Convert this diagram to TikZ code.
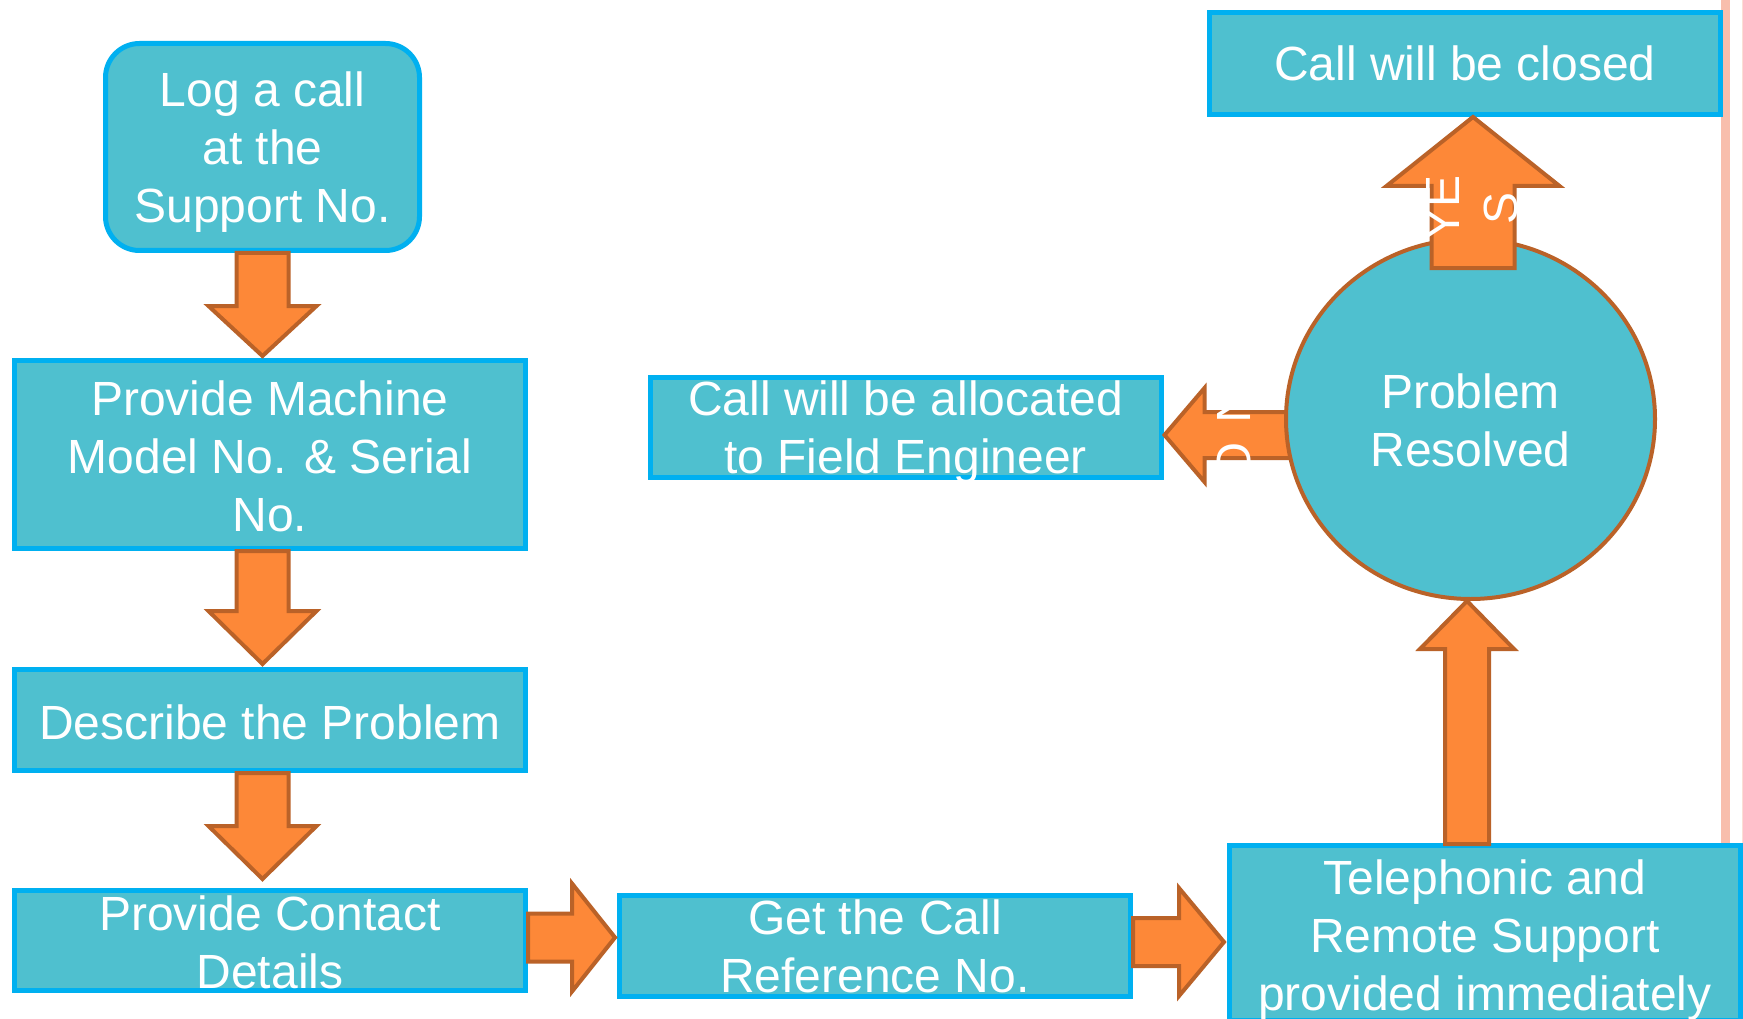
\documentclass[tikz,border=0pt]{standalone}
\usepackage{fontspec}
\setmainfont{Liberation Sans}
\usetikzlibrary{calc,shapes.geometric}

\definecolor{boxfill}{RGB}{79,192,207}
\definecolor{boxline}{RGB}{0,176,240}
\definecolor{arrowfill}{RGB}{253,136,56}
\definecolor{arrowline}{RGB}{186,98,40}
\definecolor{marginline}{RGB}{248,190,172}

% extra room above the first line, pushes a block of text down by half of #1
\newcommand\topgap[1]{\rule{0pt}{\dimexpr 34.5pt+#1\relax}}
% a last line whose descenders take no room
\newcommand\flatbase[1]{\raisebox{0pt}[\height][0pt]{#1}}

\tikzset{
  txt/.style={text=white, font=\fontsize{48}{58}\selectfont, align=center, inner sep=0pt},
  box/.style={txt, draw=boxline, line width=5pt, fill=boxfill, minimum width=511pt},
  startbox/.style={box, rounded corners=34pt},
  decision/.style={txt, ellipse, draw=arrowline, line width=4pt, fill=boxfill},
  flow/.style={draw=arrowline, fill=arrowfill, line width=4pt, line join=miter},
  % block arrow: #1 half shaft width, #2 half head width, #3 head length
  block/.style n args={3}{to path={
    ($(\tikztostart)!#1pt!90:(\tikztotarget)$)
    -- ($(\tikztotarget)!#3pt!(\tikztostart)!#1pt!-90:(\tikztostart)$)
    -- ($(\tikztotarget)!#3pt!(\tikztostart)!#2pt!-90:(\tikztostart)$)
    -- (\tikztotarget)
    -- ($(\tikztotarget)!#3pt!(\tikztostart)!#2pt!90:(\tikztostart)$)
    -- ($(\tikztotarget)!#3pt!(\tikztostart)!#1pt!90:(\tikztostart)$)
    -- ($(\tikztostart)!#1pt!-90:(\tikztotarget)$) -- cycle}},
}

\begin{document}
\begin{tikzpicture}[x=1pt, y=-1pt]
  \useasboundingbox (0,0) rectangle (1743,1019);
  \clip (0,0) rectangle (1743,1019);
  \fill[white] (0,0) rectangle (1743,1019);

  % page margin rule
  \fill[marginline] (1721,0) rectangle (1730,1019);
  \draw[marginline!50, line width=1pt] (1742,0) -- (1742,1019);

  % left column
  \node[startbox, minimum width=314pt, minimum height=207pt] (log) at (262.5,147) {\topgap{11pt}Log a call\\at the\\Support No.};
  \node[box, minimum height=188pt] (machine) at (270,454.5) {\topgap{3pt}Provide Machine\\Model No. \& Serial\\No.};
  \node[box, minimum height=101pt] (describe) at (270,720) {\topgap{4pt}Describe the Problem};
  \node[box, minimum height=100pt] (contact) at (270,940.5) {\topgap{4pt}Provide Contact\\Details};

  % bottom row
  \node[box, minimum height=101pt] (reference) at (875,946) {Get the Call\\Reference No.};
  \node[box, minimum height=175pt] (remote) at (1485,933) {\topgap{14pt}Telephonic and\\Remote Support\\provided immediately};

  % upper right
  \node[box, minimum height=100pt] (engineer) at (905.5,427.5) {Call will be allocated\\\flatbase{to Field Engineer}};
  \node[box, minimum height=102pt] (closed) at (1465,63.5) {Call will be closed};

  % arrow end points
  \coordinate (d1s) at (log.south);
  \coordinate (d1e) at ($(log.south |- machine.north)+(0,-2)$);
  \coordinate (d2s) at (log.south |- machine.south);
  \coordinate (d2e) at ($(log.south |- describe.north)+(0,-3)$);
  \coordinate (d3s) at (log.south |- describe.south);
  \coordinate (d3e) at ($(log.south |- contact.north)+(0,-9)$);
  \coordinate (r1s) at ($(contact.east)+(0,-3)$);
  \coordinate (r1e) at ($(r1s -| reference.west)+(-2,0)$);
  \coordinate (r2s) at ($(reference.east)+(0,-4)$);
  \coordinate (r2e) at ($(r2s -| remote.west)+(-3,0)$);

  \draw[flow] (d1s) to[block={26}{54}{50}] (d1e);
  \draw[flow] (d2s) to[block={26}{54}{53}] (d2e);
  \draw[flow] (d3s) to[block={26}{54}{53}] (d3e);
  \draw[flow] (r1s) to[block={24}{54}{43}] (r1e);
  \draw[flow] (r2s) to[block={24}{54}{45}] (r2e);

  % decision
  \coordinate (nos) at (1310,435);
  \coordinate (noe) at ($(nos -| engineer.east)+(1,0)$);
  \draw[flow] (nos) to[block={23}{47}{40}] (noe);

  \node[decision, minimum width=369pt, minimum height=360pt] (resolved) at (1470.5,419) {\topgap{2pt}Problem\\Resolved};

  \coordinate (ups) at ($(remote.north)+(-18,1)$);
  \coordinate (upe) at (ups |- resolved.south);
  \draw[flow] (ups) to[block={22}{47}{48}] (upe);

  \coordinate (yess) at (1473,268);
  \coordinate (yese) at (yess |- closed.south);
  \draw[flow] (yess) to[block={41.5}{86.5}{69}] (yese);

  % branch labels
  \node[txt, rotate=90] (yes) at (1472,208) {YE\\S};
  \node[txt, rotate=-90] (no) at (1234,434) {N\kern19pt O};
\end{tikzpicture}
\end{document}
